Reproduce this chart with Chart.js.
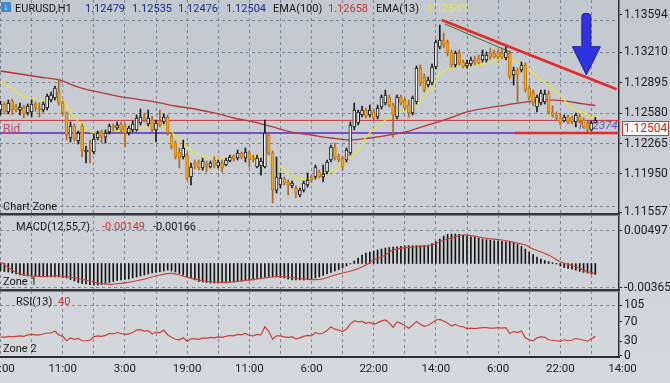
<!DOCTYPE html>
<html><head><meta charset="utf-8">
<script src="https://cdn.jsdelivr.net/npm/chart.js@4.4.1/dist/chart.umd.min.js"></script>
<style>
html,body{margin:0;padding:0;}
body{width:670px;height:383px;overflow:hidden;position:relative;background:linear-gradient(180deg,#c3c8cf 0%,#ccd0d5 55%,#d6d9dc 100%);font-family:Roboto,"Noto Sans",sans-serif;}
canvas{position:absolute;left:0;z-index:2;}
.t{position:absolute;font-size:11px;line-height:11px;white-space:nowrap;color:#161616;z-index:5;}
.sep{position:absolute;left:0;width:620px;z-index:6;}
</style></head><body>
<div class="t" style="left:1px;top:2px;width:10px;height:10px;background:#3d8ad2;color:#fff;font-size:10px;line-height:10px;text-align:center;border-radius:1px;">↓</div>
<div class="t" style="left:15px;top:3px;">EURUSD,H1</div>
<div class="t" style="left:85px;top:3px;color:#1d2a8c;">1.12479</div>
<div class="t" style="left:132px;top:3px;color:#1d2a8c;">1.12535</div>
<div class="t" style="left:178px;top:3px;color:#1d2a8c;">1.12476</div>
<div class="t" style="left:226px;top:3px;color:#1d2a8c;">1.12504</div>
<div class="t" style="left:273px;top:3px;">EMA(100)</div>
<div class="t" style="left:328px;top:3px;color:#c2343a;">1.12658</div>
<div class="t" style="left:376px;top:3px;">EMA(13)</div>
<div class="t" style="left:427px;top:3px;color:#ece63c;">1.12543</div>
<div class="t" style="left:3px;top:123px;font-size:12px;line-height:12px;color:#c6506a;">Bid</div>
<div class="t" style="left:577px;top:120px;font-size:11.5px;line-height:11px;color:#6a4fc4;font-style:italic;z-index:1;">1.12374</div>
<div class="t" style="left:3px;top:201px;">Chart Zone</div>
<div class="t" style="left:16px;top:221px;">MACD(12,55,7)</div>
<div class="t" style="left:102px;top:221px;color:#c8343a;">-0.00149</div>
<div class="t" style="left:153px;top:221px;">-0.00166</div>
<div class="t" style="left:3px;top:276px;">Zone 1</div>
<div class="t" style="left:16px;top:296px;">RSI(13)</div>
<div class="t" style="left:58px;top:296px;color:#c8343a;">40</div>
<div class="t" style="left:3px;top:343px;">Zone 2</div>
<div class="t" style="left:622px;top:121px;width:45px;height:13px;border:1px solid #c83a3e;background:#fff;color:#c82030;font-size:12px;line-height:13px;text-align:center;">1.12504</div>
<div class="sep" style="top:213px;height:2px;background:#35373b;"></div>
<div class="sep" style="top:215px;height:1px;background:#7d828a;"></div>
<div class="sep" style="top:289px;height:2px;background:#35373b;"></div>
<div class="sep" style="top:291px;height:1px;background:#7d828a;"></div>
<canvas id="c1" width="670" height="220" style="top:0px"></canvas>
<canvas id="c2" width="670" height="80" style="top:215px"></canvas>
<canvas id="c3" width="670" height="92" style="top:291px"></canvas>
<script>
// ---------------- data ----------------
const timeLabels = ['19:00','11:00','3:00','19:00','11:00','6:00','22:00','14:00','6:00','22:00','14:00'];
const gridBars = [0,8,16,24,32,40,48,56,64,72,80,88,96,104,112,120,128,136,144,152];

const opens = [1.12612,1.12674,1.12591,1.12705,1.12653,1.12612,1.12643,1.12581,1.12591,1.12674,
1.12632,1.12612,1.12632,1.12715,1.12736,1.12798,1.12684,1.12581,1.12322,1.12446,
1.12291,1.12446,1.12177,1.12198,1.12177,1.12322,1.12384,1.12332,1.12384,1.12446,
1.12426,1.12467,1.12446,1.12374,1.12405,1.12405,1.12477,1.12539,1.12467,1.12508,
1.12405,1.12498,1.12488,1.12539,1.12343,1.12270,1.12177,1.12126,1.12146,1.11919,
1.12064,1.12074,1.12012,1.12053,1.12022,1.12095,1.12033,1.12064,1.12043,1.12084,
1.12136,1.12115,1.12167,1.12115,1.12167,1.12126,1.12022,1.12033,1.12022,1.12353,
1.12167,1.11784,1.11836,1.11898,1.11867,1.11826,1.11805,1.11733,1.11784,1.11836,
1.11919,1.11919,1.11971,1.11919,1.11971,1.12095,1.12229,1.12136,1.12115,1.12095,
1.12167,1.12436,1.12477,1.12560,1.12612,1.12560,1.12591,1.12539,1.12643,1.12684,
1.12746,1.12663,1.12539,1.12746,1.12715,1.12663,1.12581,1.12694,1.13046,1.12953,
1.12870,1.12891,1.13056,1.13263,1.13335,1.13315,1.13211,1.13077,1.13201,1.13108,
1.13067,1.13087,1.13129,1.13149,1.13129,1.13129,1.13201,1.13201,1.13211,1.13201,
1.13149,1.13201,1.12974,1.13025,1.13025,1.13077,1.12839,1.12798,1.12643,1.12684,
1.12694,1.12787,1.12591,1.12560,1.12529,1.12498,1.12539,1.12529,1.12488,1.12550,
1.12508,1.12477,1.12405,1.12479];
const closes = [1.12674,1.12591,1.12684,1.12612,1.12612,1.12643,1.12570,1.12653,1.12674,1.12632,
1.12612,1.12674,1.12756,1.12767,1.12839,1.12684,1.12581,1.12353,1.12446,1.12312,
1.12374,1.12188,1.12198,1.12177,1.12312,1.12374,1.12332,1.12374,1.12446,1.12426,
1.12457,1.12405,1.12374,1.12426,1.12467,1.12529,1.12539,1.12508,1.12529,1.12405,
1.12477,1.12457,1.12539,1.12374,1.12229,1.12126,1.12115,1.12219,1.11908,1.12022,
1.12022,1.12012,1.12084,1.12022,1.12064,1.12043,1.12074,1.12012,1.12095,1.12126,
1.12105,1.12167,1.12126,1.12177,1.12095,1.12095,1.12115,1.12084,1.12374,1.12167,
1.11784,1.11919,1.11908,1.11857,1.11836,1.11857,1.11753,1.11784,1.11857,1.11888,
1.11888,1.12022,1.11919,1.11950,1.12074,1.12229,1.12115,1.12095,1.12022,1.12198,
1.12457,1.12612,1.12591,1.12612,1.12550,1.12612,1.12529,1.12632,1.12746,1.12767,
1.12663,1.12560,1.12746,1.12684,1.12632,1.12581,1.12736,1.13046,1.12891,1.12818,
1.12922,1.13056,1.13315,1.13335,1.13284,1.13201,1.13077,1.13201,1.13098,1.13056,
1.13098,1.13129,1.13098,1.13098,1.13180,1.13180,1.13160,1.13160,1.13160,1.13160,
1.13211,1.12953,1.13025,1.12974,1.13077,1.12818,1.12746,1.12684,1.12746,1.12787,
1.12777,1.12591,1.12560,1.12529,1.12477,1.12539,1.12488,1.12488,1.12560,1.12498,
1.12436,1.12405,1.12477,1.12504];
const highs = [1.12705,1.12694,1.12715,1.12725,1.12674,1.12684,1.12663,1.12674,1.12715,1.12694,
1.12684,1.12694,1.12777,1.12798,1.12860,1.12932,1.12705,1.12591,1.12488,1.12467,
1.12394,1.12467,1.12239,1.12301,1.12363,1.12394,1.12405,1.12405,1.12467,1.12467,
1.12488,1.12488,1.12477,1.12446,1.12498,1.12560,1.12622,1.12581,1.12612,1.12550,
1.12508,1.12612,1.12570,1.12560,1.12374,1.12291,1.12219,1.12301,1.12167,1.12064,
1.12095,1.12095,1.12115,1.12084,1.12084,1.12126,1.12095,1.12095,1.12115,1.12146,
1.12146,1.12198,1.12177,1.12219,1.12188,1.12146,1.12146,1.12115,1.12508,1.12374,
1.12188,1.12126,1.11960,1.11919,1.11888,1.11877,1.11826,1.11805,1.11877,1.11960,
1.11939,1.12043,1.11991,1.12043,1.12095,1.12250,1.12270,1.12157,1.12136,1.12219,
1.12488,1.12684,1.12612,1.12653,1.12632,1.12663,1.12612,1.12663,1.12767,1.12818,
1.12767,1.12684,1.12767,1.12767,1.12736,1.12715,1.12756,1.13067,1.13077,1.12984,
1.12953,1.13087,1.13335,1.13490,1.13408,1.13335,1.13232,1.13222,1.13232,1.13129,
1.13129,1.13160,1.13170,1.13180,1.13232,1.13211,1.13253,1.13232,1.13232,1.13253,
1.13284,1.13222,1.13056,1.13046,1.13108,1.13098,1.12860,1.12818,1.12767,1.12818,
1.12818,1.12808,1.12653,1.12591,1.12581,1.12560,1.12560,1.12550,1.12581,1.12570,
1.12529,1.12498,1.12498,1.12535];
const lows = [1.12560,1.12570,1.12570,1.12560,1.12591,1.12560,1.12529,1.12560,1.12539,1.12601,
1.12539,1.12591,1.12612,1.12694,1.12715,1.12663,1.12560,1.12301,1.12281,1.12291,
1.12260,1.12126,1.12064,1.12064,1.12157,1.12301,1.12270,1.12270,1.12363,1.12394,
1.12405,1.12374,1.12229,1.12353,1.12384,1.12394,1.12457,1.12488,1.12446,1.12384,
1.12281,1.12436,1.12467,1.12353,1.12208,1.12105,1.12012,1.12105,1.11888,1.11836,
1.12002,1.11991,1.11991,1.11971,1.12012,1.12012,1.12012,1.11971,1.12033,1.12074,
1.12084,1.12095,1.12105,1.12074,1.12022,1.12074,1.12012,1.11939,1.12012,1.12146,
1.11650,1.11753,1.11805,1.11836,1.11733,1.11805,1.11702,1.11712,1.11764,1.11815,
1.11867,1.11898,1.11908,1.11867,1.11950,1.12074,1.12095,1.12074,1.11991,1.12074,
1.12146,1.12405,1.12457,1.12539,1.12529,1.12539,1.12508,1.12519,1.12622,1.12663,
1.12643,1.12332,1.12519,1.12663,1.12612,1.12539,1.12560,1.12674,1.12860,1.12798,
1.12849,1.12870,1.13036,1.13242,1.13253,1.13170,1.13056,1.13056,1.13077,1.13046,
1.13046,1.13067,1.13077,1.13087,1.13108,1.13108,1.13139,1.13149,1.13139,1.13139,
1.13129,1.12932,1.12870,1.12694,1.13005,1.12798,1.12715,1.12653,1.12591,1.12663,
1.12674,1.12570,1.12539,1.12508,1.12457,1.12488,1.12467,1.12467,1.12436,1.12477,
1.12426,1.12374,1.12394,1.12476];

const ema13Bars = [0,3,5,8,10,13,15,16,18,20,22,24,26,28,31,33,36,38,40,43,45,48,50,53,56,59,62,64,67,68,70,73,75,78,80,83,86,89,92,94,97,99,102,106,108,111,113,116,119,121,124,126,128,130,131,133,135,137,139,142,145,147,150,152,153];
const ema13 = [1.12901,1.12839,1.12767,1.12736,1.12715,1.12725,1.12746,1.12705,1.12601,1.12488,
1.12405,1.12374,1.12374,1.12405,1.12394,1.12405,1.12426,1.12446,1.12457,1.12426,
1.12343,1.12229,1.12167,1.12126,1.12115,1.12126,1.12136,1.12126,1.12146,1.12136,
1.12074,1.11991,1.11929,1.11898,1.11908,1.11929,1.12002,1.12095,1.12198,1.12332,
1.12446,1.12508,1.12591,1.12632,1.12715,1.12849,1.12984,1.13046,1.13056,1.13067,
1.13087,1.13108,1.13129,1.13139,1.13129,1.13098,1.13077,1.12994,1.12922,1.12839,
1.12715,1.12632,1.12581,1.12539,1.12543];
const ema100Bars = [0,5,10,15,20,25,30,35,40,45,50,55,60,65,70,75,80,85,90,95,100,105,110,115,120,125,130,135,140,145,150,153];
const ema100 = [1.13015,1.12984,1.12953,1.12922,1.12849,1.12798,1.12756,1.12725,1.12694,1.12653,
1.12622,1.12581,1.12529,1.12488,1.12436,1.12384,1.12353,1.12322,1.12301,1.12322,
1.12353,1.12394,1.12457,1.12519,1.12591,1.12632,1.12663,1.12694,1.12715,1.12705,
1.12674,1.12658];

const lastPrice = 1.12504;
const bidPrice = 1.12374;
const trendRed = [[113.5, 1.13542], [158.5, 1.12826]];
const trendGreen = [[114.3, 1.13501], [131.1, 1.13211]];
const supportLine = [[132.3, 1.12374], [158.9, 1.12374]];
const arrowMark = {bar: 150.7, top: 1.13611, head: 1.13266, tip: 1.12974};

const macdHist = [-0.00114,-0.00122,-0.00129,-0.00144,-0.00160,-0.00175,-0.00182,-0.00190,-0.00195,-0.00198,
-0.00201,-0.00202,-0.00205,-0.00205,-0.00205,-0.00205,-0.00213,-0.00220,-0.00243,-0.00266,
-0.00289,-0.00304,-0.00312,-0.00322,-0.00327,-0.00327,-0.00319,-0.00304,-0.00289,-0.00274,
-0.00258,-0.00251,-0.00243,-0.00236,-0.00220,-0.00205,-0.00190,-0.00175,-0.00160,-0.00144,
-0.00137,-0.00125,-0.00114,-0.00099,-0.00114,-0.00129,-0.00152,-0.00175,-0.00201,-0.00228,
-0.00251,-0.00274,-0.00281,-0.00289,-0.00296,-0.00296,-0.00296,-0.00296,-0.00296,-0.00289,
-0.00281,-0.00277,-0.00266,-0.00258,-0.00251,-0.00251,-0.00236,-0.00220,-0.00205,-0.00198,
-0.00205,-0.00205,-0.00213,-0.00220,-0.00236,-0.00251,-0.00251,-0.00251,-0.00251,-0.00243,
-0.00236,-0.00220,-0.00205,-0.00182,-0.00160,-0.00137,-0.00114,-0.00091,-0.00068,-0.00038,
-0.00008,0.00038,0.00084,0.00129,0.00160,0.00175,0.00190,0.00205,0.00220,0.00236,
0.00243,0.00251,0.00255,0.00261,0.00266,0.00271,0.00271,0.00271,0.00271,0.00277,
0.00281,0.00304,0.00334,0.00372,0.00418,0.00444,0.00448,0.00448,0.00444,0.00433,
0.00418,0.00407,0.00398,0.00388,0.00372,0.00362,0.00353,0.00347,0.00342,0.00337,
0.00331,0.00327,0.00312,0.00289,0.00258,0.00220,0.00175,0.00137,0.00099,0.00068,
0.00046,0.00030,0.00012,-0.00008,-0.00038,-0.00061,-0.00073,-0.00088,-0.00103,-0.00119,
-0.00134,-0.00144,-0.00160,-0.00166];
const macdSigBars = [0,3,5,10,15,20,25,28,31,36,41,44,46,51,56,62,67,72,77,82,86,91,94,96,99,101,104,107,111,113,116,119,121,125,129,132,135,137,141,144,148,151,153];
const macdSignal = [0.00023,-0.00099,-0.00160,-0.00198,-0.00190,-0.00228,-0.00296,-0.00316,-0.00301,-0.00251,
-0.00175,-0.00149,-0.00175,-0.00251,-0.00286,-0.00266,-0.00225,-0.00198,-0.00228,-0.00243,
-0.00175,-0.00099,-0.00023,0.00053,0.00129,0.00205,0.00240,0.00255,0.00281,0.00331,
0.00392,0.00433,0.00423,0.00383,0.00357,0.00322,0.00281,0.00220,0.00129,0.00027,
-0.00049,-0.00125,-0.00149];

const rsi13 = [39,38,40,39,40,41,40,43,44,43,
43,45,47,47,51,43,40,31,37,34,
36,31,31,32,39,41,40,42,46,45,
48,46,44,45,48,53,54,51,52,45,
49,48,53,43,38,34,33,37,30,35,
35,34,37,36,38,37,39,38,40,42,
41,44,43,46,42,41,44,43,60,50,
34,41,41,39,38,39,35,37,40,42,
41,48,45,47,52,60,55,53,50,55,
66,72,70,71,67,69,65,68,72,74,
68,59,70,67,62,57,63,71,65,61,
63,68,74,75,72,67,62,65,61,60,
56,57,56,57,58,58,57,57,58,57,
58,46,50,48,51,37,33,31,37,39,
38,33,32,31,30,33,31,32,36,34,
32,30,35,40];

const mainTicks = [1.11557,1.11619,1.11950,1.12265,1.12580,1.12895,1.13210,1.13537,1.13594];
const mainLabelled = [1.11557,1.11950,1.12265,1.12580,1.12895,1.13210,1.13594];
const mainGridded = [1.11619,1.11950,1.12265,1.12580,1.12895,1.13210,1.13537];
const macdTicks = [-0.00365,0.00497];
const rsiTicks = [0,30,70,105];
const rsiGridded = [105];

// ---------------- chart setup ----------------
Chart.defaults.font.family = 'Roboto';
const X_MIN = -0.13, X_MAX = 159.1;
const GRID = 'rgba(100,110,126,0.75)';
const AXIS = '#2b2d30';
const NONE = 'rgba(0,0,0,0)';
const idx = closes.map((_, i) => i);
const isBull = i => closes[i] >= opens[i];

function xAxis(withLabels) {
  return {
    type: 'linear', min: X_MIN, max: X_MAX, offset: false,
    afterBuildTicks: ax => { ax.ticks = (withLabels ? gridBars.concat([160]) : gridBars).map(v => ({value: v})); },
    afterFit: ax => { ax.paddingLeft = 0; ax.paddingRight = 0; ax.height = withLabels ? 26 : 0; },
    grid: { display: true, drawTicks: false, lineWidth: 1, offset: false,
      color: c => (c.tick && c.tick.value > X_MAX) ? NONE : GRID },
    border: { display: withLabels, color: AXIS, width: 2, dash: [3, 3] },
    ticks: { display: withLabels, autoSkip: false, maxRotation: 0, minRotation: 0, padding: 5,
      color: '#1b1b1b', font: {family: 'Roboto', size: 11.5},
      callback: v => (v % 16 === 0) ? timeLabels[v / 16] : '' }
  };
}
function yAxis(min, max, ticks, labelled, gridded, fmt) {
  return {
    position: 'right', min: min, max: max, beginAtZero: false,
    afterBuildTicks: ax => { ax.ticks = ticks.map(v => ({value: v})); },
    afterFit: ax => { ax.width = 51; ax.paddingTop = 0; ax.paddingBottom = 0; },
    grid: { drawTicks: true, tickLength: 3, lineWidth: 1, tickWidth: 1, tickBorderDash: [],
      color: c => (c.tick && gridded.includes(c.tick.value)) ? GRID : NONE,
      tickColor: c => (c.tick && labelled.includes(c.tick.value)) ? '#222' : NONE },
    border: { display: true, color: AXIS, width: 1.5, dash: [3, 3] },
    ticks: { padding: 2, autoSkip: false, color: '#1b1b1b', font: {family: 'Roboto', size: 12},
      callback: v => labelled.includes(v) ? fmt(v) : '' }
  };
}
function segment(pts, color, width, order) {
  return { type: 'line', data: pts.map(p => ({x: p[0], y: p[1]})), borderColor: color, borderWidth: width,
    pointRadius: 0, fill: false, order: order, tension: 0 };
}
const baseOpts = (pad) => ({
  responsive: false, animation: false, devicePixelRatio: 1, events: [],
  layout: { padding: {left: 0, right: 0, top: 0, bottom: pad} },
  plugins: { legend: {display: false}, tooltip: {enabled: false} }
});

const arrowPlugin = {
  id: 'arrowMark',
  afterDatasetsDraw(chart) {
    const {ctx, scales: {x, y}} = chart;
    const cx = x.getPixelForValue(arrowMark.bar);
    const yt = y.getPixelForValue(arrowMark.top);
    const yh = y.getPixelForValue(arrowMark.head);
    const yb = y.getPixelForValue(arrowMark.tip);
    ctx.save();
    ctx.beginPath();
    ctx.moveTo(cx - 4.5, yt + 3);
    ctx.quadraticCurveTo(cx - 4.5, yt, cx, yt);
    ctx.quadraticCurveTo(cx + 4.5, yt, cx + 4.5, yt + 3);
    ctx.lineTo(cx + 4.5, yh); ctx.lineTo(cx + 14, yh); ctx.lineTo(cx, yb);
    ctx.lineTo(cx - 14, yh); ctx.lineTo(cx - 4.5, yh); ctx.closePath();
    ctx.fillStyle = '#2f32df'; ctx.fill();
    ctx.lineWidth = 1; ctx.strokeStyle = '#1e1fa0'; ctx.stroke();
    ctx.restore();
  }
};

// main price chart
new Chart(document.getElementById('c1'), {
  type: 'bar',
  data: { datasets: [
    segment(trendRed, '#e22a2a', 2.5, -3),
    segment(trendGreen, '#3d6b2a', 1, -2),
    segment(supportLine, '#e22a2a', 2.5, -1),
    { type: 'bar', data: idx.map(i => ({x: i, y: [opens[i], closes[i]]})), grouped: false, barThickness: 3,
      borderSkipped: false, borderWidth: 1, order: 0,
      backgroundColor: c => isBull(c.dataIndex) ? '#f3f3f3' : '#f1a523',
      borderColor: c => isBull(c.dataIndex) ? '#161616' : '#c27a14' },
    { type: 'bar', data: idx.map(i => ({x: i, y: [lows[i], highs[i]]})), grouped: false, barThickness: 1,
      borderWidth: 0, order: 1,
      backgroundColor: c => isBull(c.dataIndex) ? '#1a1a1a' : '#b0661c' },
    { type: 'line', data: ema13Bars.map((b, k) => ({x: b, y: ema13[k]})), borderColor: '#e9e43a', borderWidth: 1.3,
      pointRadius: 0, tension: 0.35, order: 2 },
    { type: 'line', data: ema100Bars.map((b, k) => ({x: b, y: ema100[k]})), borderColor: '#b3373a', borderWidth: 1.3,
      pointRadius: 0, tension: 0.35, order: 3 },
    segment([[-5, lastPrice], [170, lastPrice]], '#c43a3e', 1, 4),
    segment([[-5, bidPrice], [170, bidPrice]], '#7a4fc2', 2, 5)
  ]},
  options: Object.assign(baseOpts(5), {
    scales: {
      x: xAxis(false),
      y: yAxis(1.11526, 1.13749, mainTicks, mainLabelled, mainGridded, v => v.toFixed(5))
    }
  }),
  plugins: [arrowPlugin]
});

// MACD panel
new Chart(document.getElementById('c2'), {
  type: 'bar',
  data: { datasets: [
    { type: 'line', data: macdSigBars.map((b, k) => ({x: b, y: macdSignal[k]})), borderColor: '#c8403c',
      borderWidth: 1.2, pointRadius: 0, tension: 0.4, order: 0 },
    { type: 'bar', data: idx.map(i => ({x: i, y: macdHist[i]})), backgroundColor: '#141414',
      barThickness: 1, grouped: false, order: 1 }
  ]},
  options: Object.assign(baseOpts(4), {
    scales: {
      x: xAxis(false),
      y: yAxis(-0.004181, 0.007374, macdTicks, macdTicks, macdTicks, v => v.toFixed(5))
    }
  })
});

// RSI panel
new Chart(document.getElementById('c3'), {
  type: 'line',
  data: { datasets: [
    { data: idx.map(i => ({x: i, y: rsi13[i]})), borderColor: '#c8403c', borderWidth: 1.2, pointRadius: 0, tension: 0 }
  ]},
  options: Object.assign(baseOpts(0), {
    scales: {
      x: xAxis(true),
      y: yAxis(-2.7, 134, rsiTicks, rsiTicks, rsiGridded, v => String(v))
    }
  })
});
</script>
</body></html>
